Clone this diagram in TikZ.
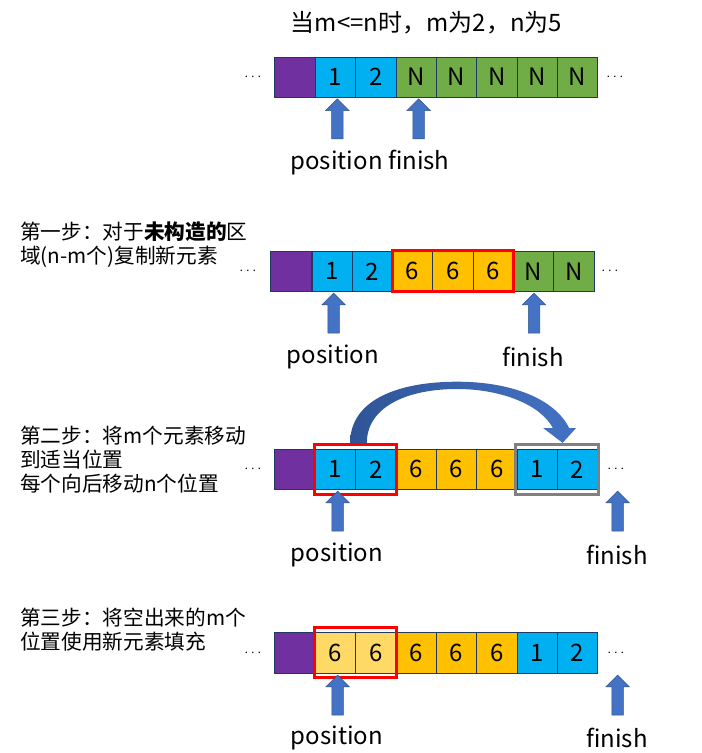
\documentclass[tikz,border=0pt]{standalone}
\usepackage{fontspec}
\setmainfont{Noto Sans CJK SC}
\usepackage{tikz}
\usetikzlibrary{calc}
\usetikzlibrary{positioning}
\usetikzlibrary{shapes}
\usetikzlibrary{shapes.arrows}
\usetikzlibrary{fit}

\definecolor{cellline}{HTML}{203864}
\definecolor{cpurple}{HTML}{7030A0}
\definecolor{cblue}{HTML}{00B0F0}
\definecolor{cgreen}{HTML}{70AD47}
\definecolor{corange}{HTML}{FFC000}
\definecolor{cyellow}{HTML}{FFD966}
\definecolor{arrowblue}{HTML}{4472C4}
\definecolor{arrowdark}{HTML}{2F5597}
\definecolor{arrowline}{HTML}{2F528F}

\begin{document}
\begin{tikzpicture}[x=0.75pt, y=-0.75pt,
	cell/.style={draw=cellline, minimum width=30.2pt, minimum height=30.4pt, inner sep=0pt, font=\fontsize{18}{20}\selectfont},
	pcell/.style={cell, fill=cpurple, minimum width=30.75pt},
	bcell/.style={cell, fill=cblue},
	gcell/.style={cell, fill=cgreen},
	ocell/.style={cell, fill=corange},
	ycell/.style={cell, fill=cyellow},
	upar/.style={shape=single arrow, rotate=90, draw=arrowline, fill=arrowblue, minimum height=30pt, single arrow head extend=4.5pt, single arrow head indent=0pt, inner xsep=0pt, inner ysep=4.1pt},
	lbl/.style={font=\fontsize{18}{20}\selectfont, inner sep=0pt},
	steptext/.style={anchor=west, align=left, inner sep=0pt, font=\fontsize{15.5}{18}\selectfont},
	dots/.style={font=\fontsize{11}{12}\selectfont, inner sep=0pt},
	redbox/.style={draw=red, line width=2.25pt},
	greybox/.style={draw=gray, line width=2.25pt}]
	\useasboundingbox (0,0) rectangle (702,753);

	\node[lbl] (title) at (426.5,22.7) {当m<=n时，m为2，n为5};

	% first row
	\node[pcell] (a0) at (294.8,77.2) {};
	\node[bcell] (a1) at (335.5,77.2) {1};
	\node[bcell] (a2) at (375.8,77.2) {2};
	\node[gcell] (a3) at (416.1,77.2) {N};
	\node[gcell] (a4) at (456.4,77.2) {N};
	\node[gcell] (a5) at (496.7,77.2) {N};
	\node[gcell] (a6) at (537.0,77.2) {N};
	\node[gcell] (a7) at (577.3,77.2) {N};
	\node[dots] (al) at (253,77.2) {$\cdots$};
	\node[dots] (ar) at (615,77.2) {$\cdots$};
	\node[upar] (pa) at (337.3,121.7) {};
	\node[upar] (fa) at (418.7,121.7) {};
	\node[lbl] (la) at (370,162.7) {position finish};

	% step one
	\node[steptext] (s1) at (20,244.3) {第一步：对于\textbf{未构造的}区\\域(n-m个)复制新元素};
	\node[pcell] (b0) at (291.2,271.3) {};
	\node[bcell] (b1) at (331.9,271.3) {1};
	\node[bcell] (b2) at (372.2,271.3) {2};
	\node[ocell] (b3) at (412.5,271.3) {6};
	\node[ocell] (b4) at (452.8,271.3) {6};
	\node[ocell] (b5) at (493.1,271.3) {6};
	\node[gcell] (b6) at (533.4,271.3) {N};
	\node[gcell] (b7) at (573.7,271.3) {N};
	\node[dots] (bl) at (248,271.3) {$\cdots$};
	\node[dots] (br) at (610,271.3) {$\cdots$};
	\node[redbox, fit=(b3)(b5), inner sep=0pt] (hb) {};
	\node[upar] (pb) at (333.7,316) {};
	\node[upar] (fb) at (534,316) {};
	\node[lbl] (lpb) at (333,357) {position};
	\node[lbl] (lfb) at (533,357) {finish};

	% step two
	\node[steptext] (s2) at (20,460) {第二步：将m个元素移动\\到适当位置\\每个向后移动n个位置};
	\node[pcell] (c0) at (294.8,469.3) {};
	\node[bcell] (c1) at (335.5,469.3) {1};
	\node[bcell] (c2) at (375.8,469.3) {2};
	\node[ocell] (c3) at (416.1,469.3) {6};
	\node[ocell] (c4) at (456.4,469.3) {6};
	\node[ocell] (c5) at (496.7,469.3) {6};
	\node[bcell] (c6) at (537.0,469.3) {1};
	\node[bcell] (c7) at (577.3,469.3) {2};
	\node[dots] (cl) at (253,469.3) {$\cdots$};
	\node[dots] (cr) at (616,469.3) {$\cdots$};
	\node[redbox, fit=(c1)(c2), inner xsep=0.5pt, inner ysep=3.3pt] (hc) {};
	\node[greybox, fit=(c6)(c7), inner xsep=0.5pt, inner ysep=3.3pt] (gc) {};
	\coordinate (topout) at (457,381.7);
	\coordinate (topin) at (457,389);
	\shade[left color=arrowdark, right color=arrowblue] ($(hc.north)+(-5.5,0)$) .. controls +(0,-44) and +(-57,0) .. (topout)
		.. controls +(55,0) and +(-14,-29) .. ($(gc.north)+(12,-14.7)$) -- ($(gc.north)+(18.8,-14.7)$)
		-- ($(gc.north)+(5.5,0)$) -- ($(gc.north)+(-13.9,-14.7)$) -- ($(gc.north)+(-4.2,-14.7)$)
		.. controls +(-12,-23) and +(45,0) .. (topin)
		.. controls +(-50,0) and +(0,-36) .. ($(hc.north)+(11.2,0)$) -- cycle;
	\node[upar] (pc) at (337.7,514) {};
	\node[upar] (fc) at (617.7,514) {};
	\node[lbl] (lpc) at (337,555) {position};
	\node[lbl] (lfc) at (617,555) {finish};

	% step three
	\node[steptext] (s3) at (20,629.5) {第三步：将空出来的m个\\位置使用新元素填充};
	\node[pcell] (d0) at (294.8,652.8) {};
	\node[ycell] (d1) at (335.5,652.8) {6};
	\node[ycell] (d2) at (375.8,652.8) {6};
	\node[ocell] (d3) at (416.1,652.8) {6};
	\node[ocell] (d4) at (456.4,652.8) {6};
	\node[ocell] (d5) at (496.7,652.8) {6};
	\node[bcell] (d6) at (537.0,652.8) {1};
	\node[bcell] (d7) at (577.3,652.8) {2};
	\node[dots] (dl) at (253,652.8) {$\cdots$};
	\node[dots] (dr) at (616,652.8) {$\cdots$};
	\node[redbox, fit=(d1)(d2), inner xsep=0.5pt, inner ysep=3.3pt] (hd) {};
	\node[upar] (pd) at (337.7,698) {};
	\node[upar] (fd) at (617.7,698) {};
	\node[lbl] (lpd) at (337,738) {position};
	\node[lbl] (lfd) at (617,738) {finish};
\end{tikzpicture}
\end{document}
